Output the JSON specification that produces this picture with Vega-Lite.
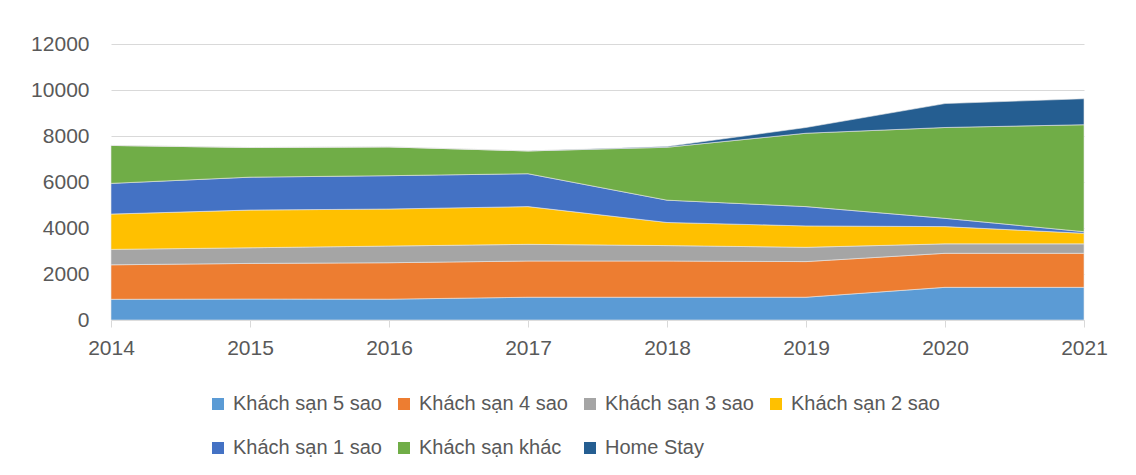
{
  "$schema": "https://vega.github.io/schema/vega-lite/v6.json",
  "autosize": {"type": "none"},
  "padding": {"left": 111, "top": 44, "right": 52, "bottom": 155},
  "width": 973,
  "height": 276,
  "background": "white",
  "config": {
    "view": {"stroke": null},
    "font": "Liberation Sans"
  },
  "data": {
    "values": [
      {"year": "2014", "type": "Khách sạn 5 sao", "k": 1, "value": 900},
      {"year": "2014", "type": "Khách sạn 4 sao", "k": 2, "value": 1500},
      {"year": "2014", "type": "Khách sạn 3 sao", "k": 3, "value": 670},
      {"year": "2014", "type": "Khách sạn 2 sao", "k": 4, "value": 1535},
      {"year": "2014", "type": "Khách sạn 1 sao", "k": 5, "value": 1335},
      {"year": "2014", "type": "Khách sạn khác", "k": 6, "value": 1650},
      {"year": "2014", "type": "Home Stay", "k": 7, "value": 0},
      {"year": "2015", "type": "Khách sạn 5 sao", "k": 1, "value": 910},
      {"year": "2015", "type": "Khách sạn 4 sao", "k": 2, "value": 1550},
      {"year": "2015", "type": "Khách sạn 3 sao", "k": 3, "value": 680},
      {"year": "2015", "type": "Khách sạn 2 sao", "k": 4, "value": 1640},
      {"year": "2015", "type": "Khách sạn 1 sao", "k": 5, "value": 1430},
      {"year": "2015", "type": "Khách sạn khác", "k": 6, "value": 1290},
      {"year": "2015", "type": "Home Stay", "k": 7, "value": 0},
      {"year": "2016", "type": "Khách sạn 5 sao", "k": 1, "value": 905},
      {"year": "2016", "type": "Khách sạn 4 sao", "k": 2, "value": 1585},
      {"year": "2016", "type": "Khách sạn 3 sao", "k": 3, "value": 725},
      {"year": "2016", "type": "Khách sạn 2 sao", "k": 4, "value": 1610},
      {"year": "2016", "type": "Khách sạn 1 sao", "k": 5, "value": 1450},
      {"year": "2016", "type": "Khách sạn khác", "k": 6, "value": 1250},
      {"year": "2016", "type": "Home Stay", "k": 7, "value": 0},
      {"year": "2017", "type": "Khách sạn 5 sao", "k": 1, "value": 990},
      {"year": "2017", "type": "Khách sạn 4 sao", "k": 2, "value": 1575},
      {"year": "2017", "type": "Khách sạn 3 sao", "k": 3, "value": 725},
      {"year": "2017", "type": "Khách sạn 2 sao", "k": 4, "value": 1640},
      {"year": "2017", "type": "Khách sạn 1 sao", "k": 5, "value": 1430},
      {"year": "2017", "type": "Khách sạn khác", "k": 6, "value": 990},
      {"year": "2017", "type": "Home Stay", "k": 7, "value": 0},
      {"year": "2018", "type": "Khách sạn 5 sao", "k": 1, "value": 990},
      {"year": "2018", "type": "Khách sạn 4 sao", "k": 2, "value": 1575},
      {"year": "2018", "type": "Khách sạn 3 sao", "k": 3, "value": 670},
      {"year": "2018", "type": "Khách sạn 2 sao", "k": 4, "value": 1005},
      {"year": "2018", "type": "Khách sạn 1 sao", "k": 5, "value": 970},
      {"year": "2018", "type": "Khách sạn khác", "k": 6, "value": 2300},
      {"year": "2018", "type": "Home Stay", "k": 7, "value": 30},
      {"year": "2019", "type": "Khách sạn 5 sao", "k": 1, "value": 990},
      {"year": "2019", "type": "Khách sạn 4 sao", "k": 2, "value": 1550},
      {"year": "2019", "type": "Khách sạn 3 sao", "k": 3, "value": 620},
      {"year": "2019", "type": "Khách sạn 2 sao", "k": 4, "value": 930},
      {"year": "2019", "type": "Khách sạn 1 sao", "k": 5, "value": 840},
      {"year": "2019", "type": "Khách sạn khác", "k": 6, "value": 3190},
      {"year": "2019", "type": "Home Stay", "k": 7, "value": 250},
      {"year": "2020", "type": "Khách sạn 5 sao", "k": 1, "value": 1420},
      {"year": "2020", "type": "Khách sạn 4 sao", "k": 2, "value": 1480},
      {"year": "2020", "type": "Khách sạn 3 sao", "k": 3, "value": 410},
      {"year": "2020", "type": "Khách sạn 2 sao", "k": 4, "value": 750},
      {"year": "2020", "type": "Khách sạn 1 sao", "k": 5, "value": 360},
      {"year": "2020", "type": "Khách sạn khác", "k": 6, "value": 3950},
      {"year": "2020", "type": "Home Stay", "k": 7, "value": 1040},
      {"year": "2021", "type": "Khách sạn 5 sao", "k": 1, "value": 1420},
      {"year": "2021", "type": "Khách sạn 4 sao", "k": 2, "value": 1480},
      {"year": "2021", "type": "Khách sạn 3 sao", "k": 3, "value": 410},
      {"year": "2021", "type": "Khách sạn 2 sao", "k": 4, "value": 460},
      {"year": "2021", "type": "Khách sạn 1 sao", "k": 5, "value": 70},
      {"year": "2021", "type": "Khách sạn khác", "k": 6, "value": 4650},
      {"year": "2021", "type": "Home Stay", "k": 7, "value": 1130}
    ]
  },
  "mark": {"type": "area", "stroke": "#e8e8e8", "strokeWidth": 0.6},
  "encoding": {
    "x": {
      "field": "year",
      "type": "ordinal",
      "scale": {"type": "point", "padding": 0},
      "axis": {
        "title": null,
        "labelAngle": 0,
        "labelFontSize": 21,
        "labelColor": "#595959",
        "labelPadding": 10,
        "domainColor": "#d9d9d9",
        "tickColor": "#d9d9d9",
        "tickSize": 7,
        "grid": false
      }
    },
    "y": {
      "field": "value",
      "type": "quantitative",
      "stack": "zero",
      "scale": {"domain": [0, 12000], "nice": false},
      "axis": {
        "title": null,
        "format": "d",
        "values": [0, 2000, 4000, 6000, 8000, 10000, 12000],
        "labelFontSize": 21,
        "labelColor": "#595959",
        "labelPadding": 22,
        "domain": false,
        "ticks": false,
        "gridColor": "#d9d9d9",
        "gridWidth": 1
      }
    },
    "color": {
      "field": "type",
      "type": "nominal",
      "sort": ["Khách sạn 5 sao", "Khách sạn 4 sao", "Khách sạn 3 sao", "Khách sạn 2 sao", "Khách sạn 1 sao", "Khách sạn khác", "Home Stay"],
      "scale": {
        "domain": ["Khách sạn 5 sao", "Khách sạn 4 sao", "Khách sạn 3 sao", "Khách sạn 2 sao", "Khách sạn 1 sao", "Khách sạn khác", "Home Stay"],
        "range": ["#5b9bd5", "#ed7d31", "#a5a5a5", "#ffc000", "#4472c4", "#70ad47", "#255e91"]
      },
      "legend": {
        "title": null,
        "orient": "none",
        "legendX": 97,
        "legendY": 350,
        "direction": "horizontal",
        "columns": 4,
        "gridAlign": "none",
        "symbolType": "square",
        "symbolSize": 144,
        "symbolStrokeWidth": 0,
        "labelFontSize": 20,
        "labelColor": "#595959",
        "labelOffset": 5,
        "columnPadding": 12,
        "rowPadding": 24
      }
    },
    "order": {"field": "k", "type": "quantitative"}
  }
}
